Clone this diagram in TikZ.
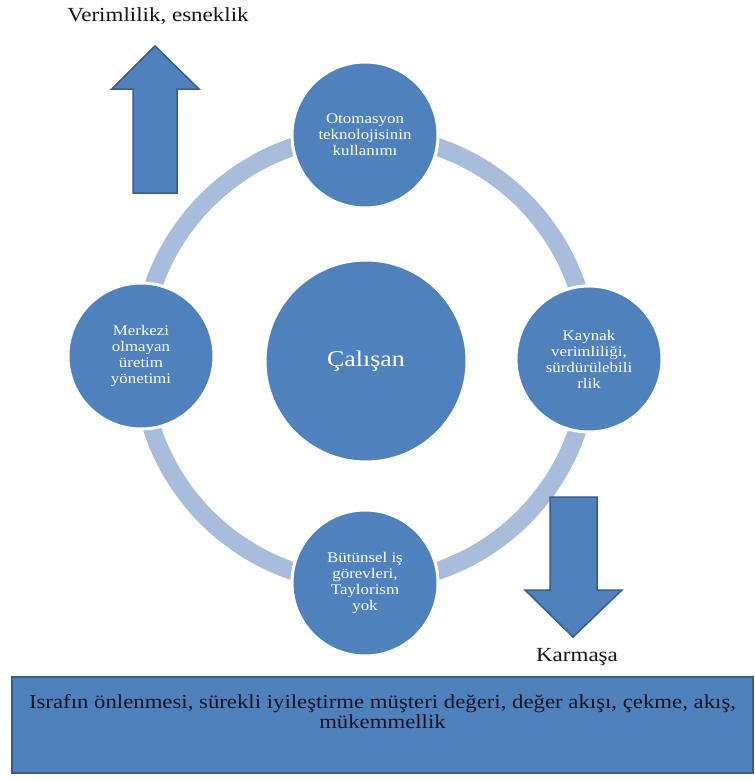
\documentclass[tikz,border=0pt]{standalone}
\usepackage{fontspec}
\setmainfont{Liberation Serif}[FakeStretch=1.15]
\begin{document}
\definecolor{accent}{HTML}{4F81BD}
\definecolor{accentdark}{HTML}{385D8A}
\definecolor{ringblue}{RGB}{168,188,220}
\definecolor{inktext}{RGB}{20,20,35}
\begin{tikzpicture}[x=1pt,y=-1pt,
  bubble/.style={circle,fill=accent,draw=white,line width=3pt,inner sep=0pt,
    minimum size=#1,text=white,align=center,font=\fontsize{14.7}{16}\selectfont},
  bigarrow/.style={fill=accent,draw=accentdark,line width=1.5pt,line join=miter},
  caption/.style={text=inktext,font=\fontsize{20}{22}\selectfont,inner sep=0pt}]
\useasboundingbox (0,0) rectangle (755,782);
\fill[white] (0,0) rectangle (755,782);

% cycle ring behind the four satellites
\coordinate (ringc) at (365,359);
\draw[ringblue,line width=18pt] (ringc) circle[radius=224];

% centre and satellites
\node[bubble=202pt,font=\fontsize{22.5}{26}\selectfont] (core) at (366,361) {Çalışan};
\node[bubble=146pt] (top) at (365,135) {Otomasyon\\teknolojisinin\\kullanımı};
\node[bubble=146pt] (left) at (141,356) {Merkezi\\olmayan\\üretim\\yönetimi};
\node[bubble=146pt] (right) at (589,359) {Kaynak\\verimliliği,\\sürdürülebili\\rlik};
\node[bubble=146pt] (bottom) at (365,583) {Bütünsel iş\\görevleri,\\Taylorism\\yok};

% block arrows
\draw[bigarrow] (133,193) -- (133,89) -- (112,89) -- (155,46) -- (199,89)
  -- (177,89) -- (177,193) -- cycle;
\draw[bigarrow] (550,497) -- (597,497) -- (597,590) -- (622,590) -- (573,637)
  -- (525,590) -- (550,590) -- cycle;

\node[caption] (upcap) at (158,16) {Verimlilik, esneklik};
\node[caption] (downcap) at (577,657) {Karmaşa};

% bottom banner
\node[rectangle,fill=accent,draw=accentdark,line width=2pt,minimum width=741pt,
  minimum height=96pt,inner sep=0pt] (banner) at (382.5,725) {};
\node[text=inktext,align=center,font=\fontsize{19.8}{20}\selectfont,inner sep=0pt,
  anchor=north] (bannertext) at ([yshift=-18pt]banner.north)
  {Israfın önlenmesi, sürekli iyileştirme müşteri değeri, değer akışı, çekme, akış,\\mükemmellik};
\end{tikzpicture}
\end{document}
